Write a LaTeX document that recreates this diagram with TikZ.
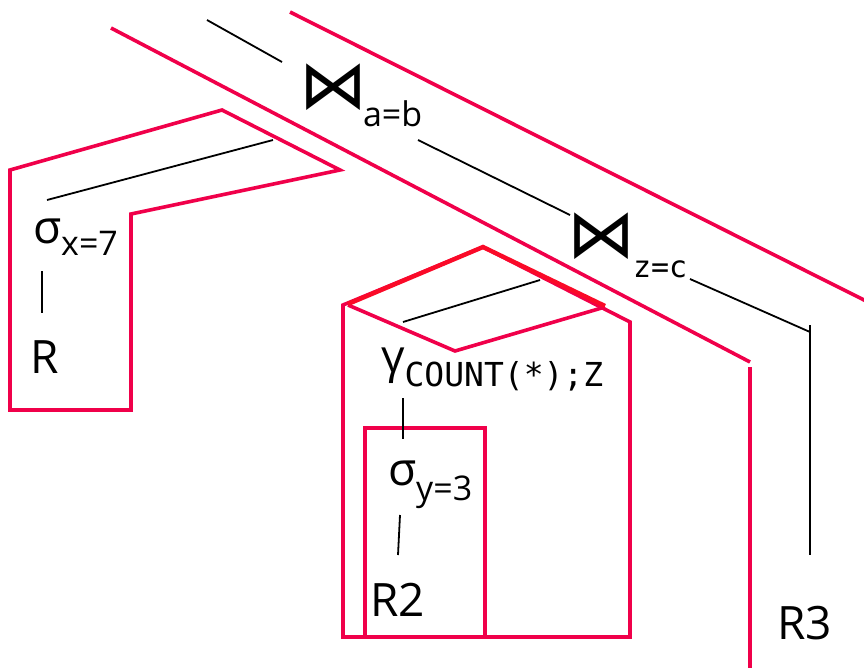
\documentclass[tikz,border=0pt]{standalone}
\usepackage{fontspec}
\setmainfont{Open Sans}
\newfontfamily\symfont{DejaVu Sans}
\newfontfamily\monofont{DejaVu Sans Mono}
\newcommand\subtxt[2][-12pt]{\raisebox{#1}{\fontsize{34}{34}\selectfont #2}}
\newcommand\subtt[2][-12pt]{\raisebox{#1}{\fontsize{33}{33}\monofont #2}}
\definecolor{rose}{RGB}{240,0,74}
\definecolor{hot}{RGB}{250,10,40}
\begin{document}
\begin{tikzpicture}[x=1pt,y=-1pt,
  lbl/.style={inner sep=0pt,outer sep=0pt,anchor=base west,font=\fontsize{46}{46}\selectfont},
  op/.style={inner sep=0pt,outer sep=0pt,anchor=base west,font=\fontsize{68}{68}\symfont},
  redline/.style={draw=rose,line width=3.6pt,line join=miter},
  edge/.style={draw=black,line width=1.8pt}]
\useasboundingbox (0,0) rectangle (864,667);
% red outlines
\draw[redline] (111,28) -- (750,362);
\draw[redline] (750,367) -- (750,672);
\draw[redline] (290,12) -- (870,303);
\draw[redline] (10,410) -- (10,170) -- (222,110) -- (340,170) -- (131,214) -- (131,410) -- cycle;
\draw[redline] (343,637) -- (343,305) -- (483,247) -- (630,322) -- (630,637) -- cycle;
\draw[redline] (348,305) -- (455,351) -- (605,307);
\draw[draw=hot,line width=4.4pt] (348,304) -- (483,247) -- (605,306);
\draw[redline] (365,428) rectangle (485,637);
% labels
\node[op] (j1) at (299,108) {⋈};
\node[lbl,font=\fontsize{34}{34}\selectfont] (j1s) at (363,126) {a=b};
\node[op] (j2) at (567,257) {⋈};
\node[lbl,font=\fontsize{30}{30}\monofont] (j2s) at (633,277) {z=c};
\node[lbl] (s1) at (33,243) {σ\subtxt{x=7}};
\node[lbl] (r) at (30,373) {R};
\node[lbl] (g) at (381,372) {γ\subtt[-14pt]{COUNT(*);Z}};
\node[lbl] (s2) at (388,485) {σ\subtxt[-15pt]{y=3}};
\node[lbl] (r2) at (370,616) {R2};
\node[lbl] (r3) at (777,639) {R3};
% tree edges
\coordinate (t0) at (207,20);
\coordinate (t1) at (282,62);
\coordinate (a0) at (418,140);
\coordinate (a1) at (570,215);
\coordinate (b0) at (690,279);
\coordinate (b1) at (810,332);
\coordinate (b2) at (810,555);
\coordinate (c0) at (47,200);
\coordinate (c1) at (273,140);
\coordinate (d0) at (42,271);
\coordinate (d1) at (42,313);
\coordinate (e0) at (403,322);
\coordinate (e1) at (540,280);
\coordinate (f0) at (403,398);
\coordinate (f1) at (403,439);
\coordinate (h0) at (400,515);
\coordinate (h1) at (398,555);
\draw[edge] (t0) -- (t1);
\draw[edge] (a0) -- (a1);
\draw[edge] (b0) -- (b1);
\draw[edge] (810,325) -- (b2);
\draw[edge] (c0) -- (c1);
\draw[edge] (d0) -- (d1);
\draw[edge] (e0) -- (e1);
\draw[edge] (f0) -- (f1);
\draw[edge] (h0) -- (h1);
\end{tikzpicture}
\end{document}
